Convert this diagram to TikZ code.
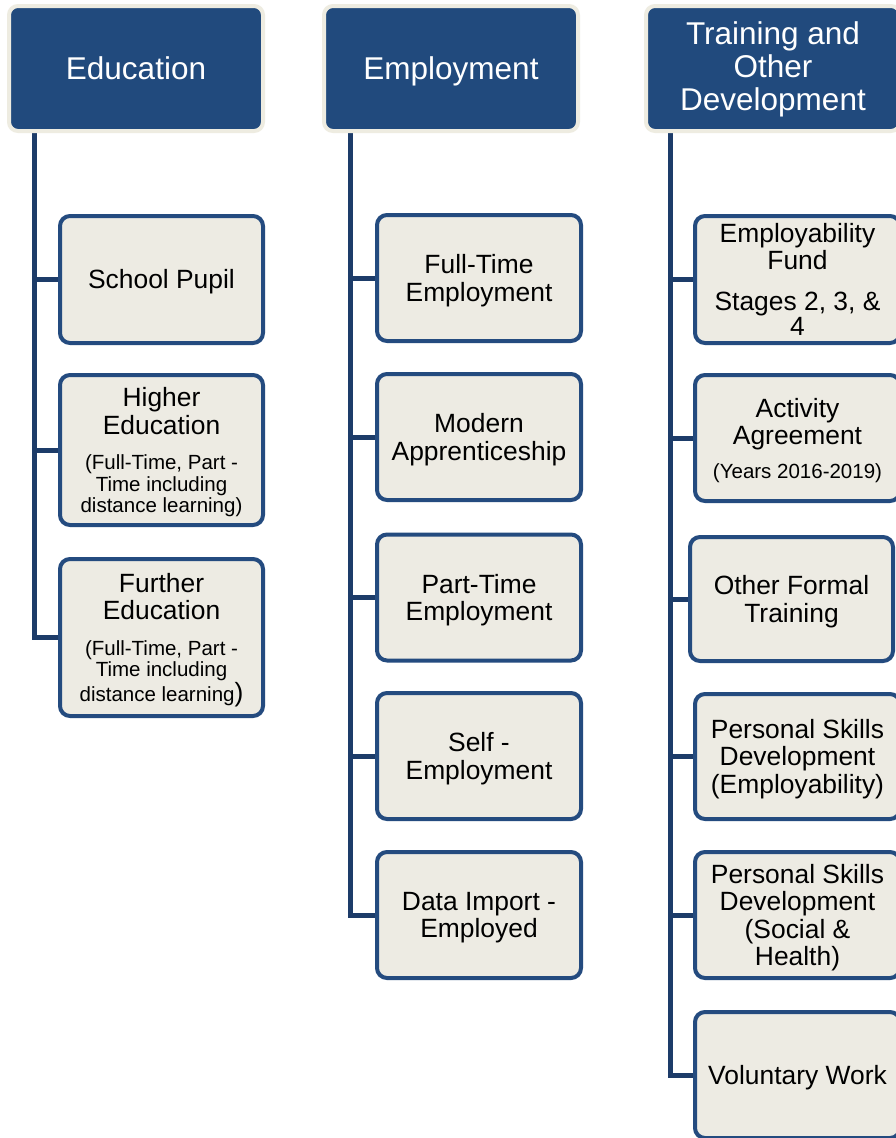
\documentclass[tikz,border=0pt]{standalone}
\usepackage{fontspec}
\setmainfont{Liberation Sans}
\usetikzlibrary{backgrounds}
\definecolor{headblue}{RGB}{33,74,125}
\definecolor{cream}{RGB}{238,236,225}
\definecolor{boxfill}{RGB}{237,235,227}
\definecolor{boxline}{RGB}{36,75,127}
\definecolor{connblue}{RGB}{29,60,105}
\newcommand{\hfnt}{\fontsize{31.5}{33}\selectfont}
\newcommand{\cfnt}{\fontsize{26.4}{27.5}\selectfont}
\newcommand{\sfnt}{\fontsize{20.5}{21.5}\selectfont}
\newcommand{\lowr}[1]{\raisebox{-2.5pt}[\height][\depth]{#1}}
\newcommand{\ctext}[2][-2.5pt]{\raisebox{#1}[\height][\depth]{\parbox{198pt}{\centering\cfnt #2\par}}}
\tikzset{
  headbox/.style={rectangle, rounded corners=9pt, fill=headblue, draw=cream,
    line width=4pt, minimum width=254pt, minimum height=125pt, inner sep=0pt,
    text=white, font=\hfnt, align=center},
  childbox/.style={rectangle, rounded corners=10pt, fill=boxfill, draw=boxline,
    line width=4pt, minimum width=203pt, inner sep=0pt, text=black},
  conn/.style={draw=connblue, line width=5pt}
}
\begin{document}
\begin{tikzpicture}[x=1pt,y=-1pt]
\useasboundingbox (0,0) rectangle (896,1138);
\clip (0,0) rectangle (896,1138);

% headers
\node[headbox] (hE) at (136,68.5) {Education};
\node[headbox] (hM) at (451,68.5) {\lowr{Employment}};
\node[headbox] (hT) at (773,68.5) {\lowr{\begin{tabular}{@{}c@{}}Training and\\Other\\Development\end{tabular}}};

% Education column
\node[childbox, minimum height=127pt] (sp) at (161.5,279.5) {\ctext{School Pupil}};
\node[childbox, minimum height=150pt] (he) at (161.5,450) {\ctext{Higher\\Education\par\vspace{14pt}{\sfnt (Full-Time, Part -\\Time including\\distance learning)\par}}};
\node[childbox, minimum height=157pt] (fe) at (161.5,637.5) {\ctext{Further\\Education\par\vspace{14pt}{\sfnt (Full-Time, Part -\\Time including\\distance learning{\cfnt)}\par}}};

% Employment column
\node[childbox, minimum width=204pt, minimum height=126pt] (ft) at (479,278) {\ctext{Full-Time\\Employment}};
\node[childbox, minimum width=204pt, minimum height=126pt] (ma) at (479,437) {\ctext{Modern\\Apprenticeship}};
\node[childbox, minimum width=204pt, minimum height=126pt] (pt) at (479,597.5) {\ctext{Part-Time\\Employment}};
\node[childbox, minimum width=204pt, minimum height=126pt] (se) at (479,756) {\ctext{Self -\\Employment}};
\node[childbox, minimum width=204pt, minimum height=126pt] (di) at (479,915) {\ctext{Data Import -\\Employed}};

% Training column
\node[childbox, minimum width=205pt, minimum height=127pt] (ef) at (797.5,279.5) {\ctext[0pt]{Employability\\Fund\par\vspace{16pt}{\fontsize{26.4}{25}\selectfont Stages 2, 3, \&\\4\par}}};
\node[childbox, minimum width=205pt, minimum height=126pt] (aa) at (797.5,438) {\ctext{Activity\\Agreement\par\vspace{12pt}{\sfnt (Years 2016-2019)\par}}};
\node[childbox, minimum width=203pt, minimum height=124pt] (of) at (791.5,599) {\ctext{Other Formal\\Training}};
\node[childbox, minimum width=205pt, minimum height=125pt] (pe) at (797.5,756.5) {\ctext{Personal Skills\\Development\\(Employability)}};
\node[childbox, minimum width=205pt, minimum height=126pt] (ps) at (797.5,915) {\ctext{Personal Skills\\Development\\(Social \&\\Health)}};
\node[childbox, minimum width=205pt, minimum height=126pt] (vw) at (797.5,1075) {\ctext{Voluntary Work}};

\coordinate (eT) at (34.5,133);
\coordinate (mT) at (350,133);
\coordinate (tT) at (670,133);

\begin{pgfonlayer}{background}
\fill[white] (0,0) rectangle (896,1138);
\draw[conn] (eT) |- (sp.west);
\draw[conn] (eT) |- (he.west);
\draw[conn] (eT) |- (fe.west);
\draw[conn] (mT) |- (ft.west);
\draw[conn] (mT) |- (ma.west);
\draw[conn] (mT) |- (pt.west);
\draw[conn] (mT) |- (se.west);
\draw[conn] (mT) |- (di.west);
\draw[conn] (tT) |- (ef.west);
\draw[conn] (tT) |- (aa.west);
\draw[conn] (tT) |- (of.west);
\draw[conn] (tT) |- (pe.west);
\draw[conn] (tT) |- (ps.west);
\draw[conn] (tT) |- (vw.west);
\end{pgfonlayer}
\end{tikzpicture}
\end{document}
